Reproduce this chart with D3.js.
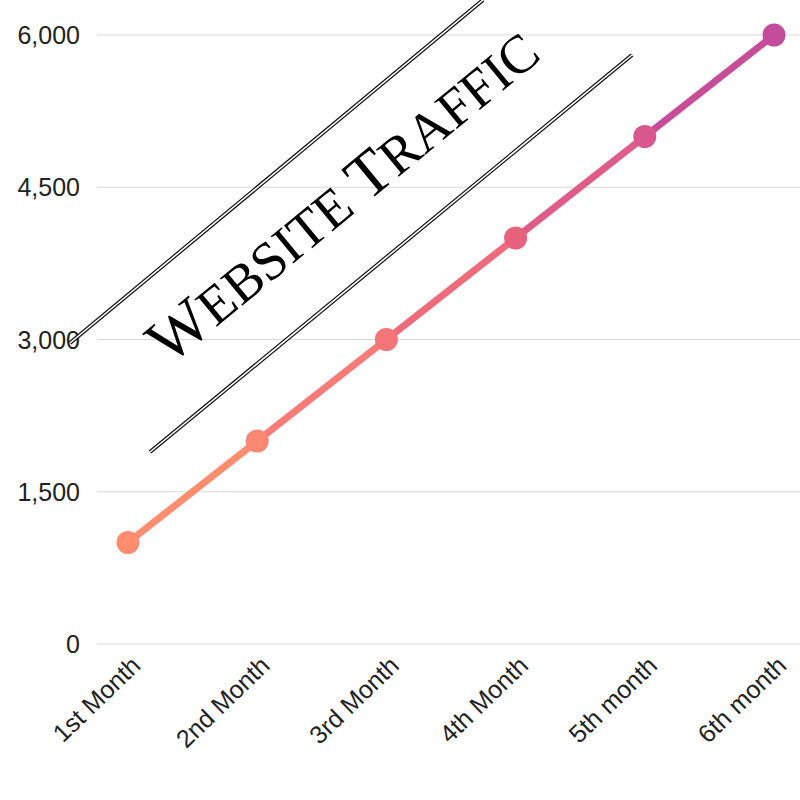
<!DOCTYPE html>
<html>
<head>
<meta charset="utf-8">
<script src="https://cdn.jsdelivr.net/npm/d3@7"></script>
<style>
  body { margin: 0; background: #fff; }
</style>
</head>
<body>
<div id="chart"></div>
<script>
// chart data
const months = ["1st Month", "2nd Month", "3rd Month", "4th Month", "5th month", "6th month"];
const visits = [1000, 2000, 3000, 4000, 5000, 6000];
const yTicks = [0, 1500, 3000, 4500, 6000];
// title pieces: [text, big capital?]
const titleParts = [["W", true], ["EBSITE ", false], ["T", true], ["RAFFIC", false]];

// colours for each point, orange to purple
const pointColors = ["#ff8c6e", "#fb8872", "#f47578", "#e8627e", "#d9568f", "#c44c9c"];
const segColors = ["#ff8d6e", "#f97b77", "#ee6b7c", "#df5c89", "#c84d98"];

function drawChart(id) {
  const w = 800;
  const h = 800;

  const svg = d3
    .select(`#${id}`)
    .append("svg")
    .attr("width", w)
    .attr("height", h)
    .attr("viewBox", [0, 0, w, h]);

  const x = d3.scalePoint().domain(months).range([128, 774]);
  const y = d3.scaleLinear().domain([0, 6000]).range([644, 35]);

  // gridlines
  svg
    .append("g")
    .selectAll("line")
    .data(yTicks)
    .enter()
    .append("line")
    .attr("x1", 97)
    .attr("x2", w)
    .attr("y1", (d) => y(d))
    .attr("y2", (d) => y(d))
    .attr("stroke", "#d9d9d9")
    .attr("stroke-width", 1.2);

  // y labels
  svg
    .append("g")
    .selectAll("text")
    .data(yTicks)
    .enter()
    .append("text")
    .attr("x", 80)
    .attr("y", (d) => y(d))
    .attr("dy", "0.36em")
    .attr("text-anchor", "end")
    .attr("font-family", "Liberation Sans, Arial, sans-serif")
    .attr("font-size", 25)
    .attr("fill", "#222")
    .text((d) => d3.format(",")(d));

  // x labels, rotated
  svg
    .append("g")
    .selectAll("text")
    .data(months)
    .enter()
    .append("text")
    .attr("transform", (d) => `translate(${x(d) + 8},${661}) rotate(-44)`)
    .attr("text-anchor", "end")
    .attr("dy", "0.35em")
    .attr("font-family", "Liberation Sans, Arial, sans-serif")
    .attr("font-size", 25)
    .attr("fill", "#222")
    .text((d) => d);

  // decorative double lines around the title
  const deco = [
    [70, 343, 483, 0],
    [150, 452, 632, 55],
  ];
  const decoG = svg.append("g");
  decoG
    .selectAll("line.outer")
    .data(deco)
    .enter()
    .append("line")
    .attr("x1", (d) => d[0])
    .attr("y1", (d) => d[1])
    .attr("x2", (d) => d[2])
    .attr("y2", (d) => d[3])
    .attr("stroke", "#111")
    .attr("stroke-width", 4);
  decoG
    .selectAll("line.inner")
    .data(deco)
    .enter()
    .append("line")
    .attr("x1", (d) => d[0])
    .attr("y1", (d) => d[1])
    .attr("x2", (d) => d[2])
    .attr("y2", (d) => d[3])
    .attr("stroke", "#fff")
    .attr("stroke-width", 1.6);

  // title, hand-made small caps
  svg
    .append("text")
    .attr("transform", "translate(356,212) rotate(-39.5)")
    .attr("text-anchor", "middle")
    .attr("font-family", "Liberation Serif, Times New Roman, serif")
    .attr("fill", "#000")
    .selectAll("tspan")
    .data(titleParts)
    .enter()
    .append("tspan")
    .attr("font-size", (d) => (d[1] ? 64 : 54))
    .text((d) => d[0]);

  // line segments
  const segs = d3.pairs(months.map((m, i) => ({ m, v: visits[i] })));
  svg
    .append("g")
    .selectAll("line")
    .data(segs)
    .enter()
    .append("line")
    .attr("x1", (d) => x(d[0].m))
    .attr("y1", (d) => y(d[0].v))
    .attr("x2", (d) => x(d[1].m))
    .attr("y2", (d) => y(d[1].v))
    .attr("stroke", (d, i) => segColors[i])
    .attr("stroke-width", 7);

  // markers
  svg
    .append("g")
    .selectAll("circle")
    .data(visits)
    .enter()
    .append("circle")
    .attr("cx", (d, i) => x(months[i]))
    .attr("cy", (d) => y(d))
    .attr("r", 11.5)
    .attr("fill", (d, i) => pointColors[i]);
}

document.addEventListener("DOMContentLoaded", function () {
  drawChart("chart");
});
</script>
</body>
</html>
